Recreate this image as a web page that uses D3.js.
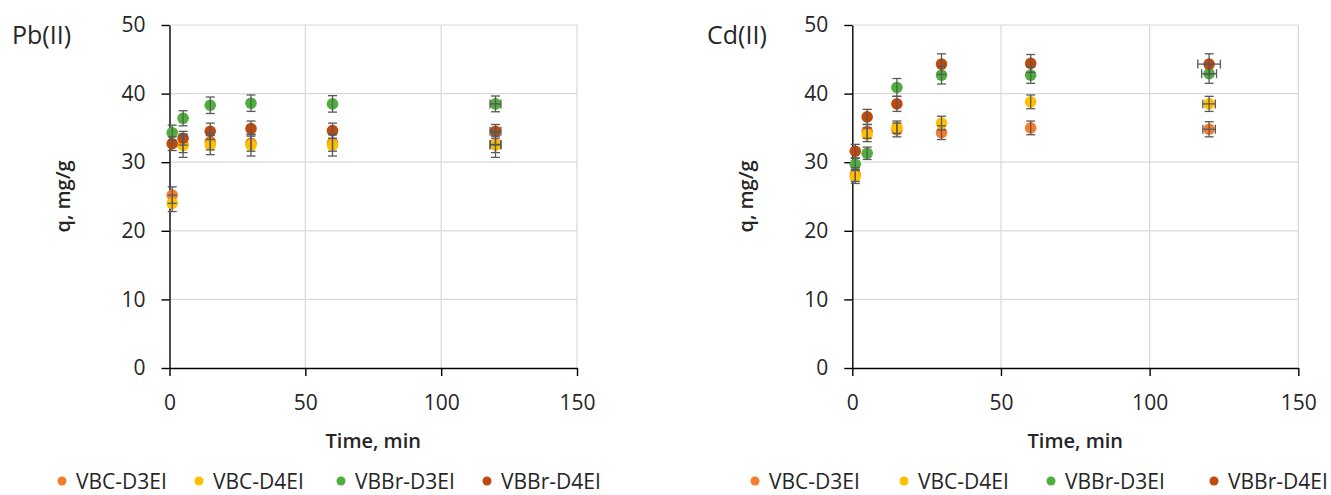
<!DOCTYPE html>
<html>
<head>
<meta charset="utf-8">
<script src="https://cdn.jsdelivr.net/npm/d3@7"></script>
<style>
  body { margin: 0; background: #fff; }
  svg text { font-family: "Open Sans", "Noto Sans", sans-serif; fill: #262626; }
</style>
</head>
<body>
<svg id="chart" width="1331" height="495"></svg>
<script>
// sampling times, min
var times = [1, 5, 15, 30, 60, 120];
var seriesNames = ["VBC-D3EI", "VBC-D4EI", "VBBr-D3EI", "VBBr-D4EI"];
var seriesColors = ["#F47C2C", "#FFC000", "#4EAE3E", "#BF4A0C"];
var xTicks = [0, 50, 100, 150];
var yTicks = [0, 10, 20, 30, 40, 50];

// Pb(II), q in mg/g
var pbVBC_D3EI = [25.2, 32.6, 33.0, 32.8, 32.8, 32.6];
var pbVBC_D4EI = [24.0, 32.4, 32.5, 32.5, 32.5, 32.5];
var pbVBBr_D3EI = [34.3, 36.4, 38.3, 38.6, 38.5, 38.5];
var pbVBBr_D4EI = [32.7, 33.5, 34.5, 34.9, 34.6, 34.5];
var pbErr_VBC_D3EI = [1.2, 1.2, 1.2, 1.2, 1.2, 1.2];
var pbErr_VBC_D4EI = [1.2, 1.7, 1.4, 1.6, 1.6, 1.8];
var pbErr_VBBr_D3EI = [1.1, 1.1, 1.2, 1.2, 1.2, 1.15];
var pbErr_VBBr_D4EI = [1.0, 1.0, 1.2, 1.1, 1.1, 1.0];
var pbTimeErr = [0, 0, 0, 0, 0, 2];

// Cd(II), q in mg/g
var cdVBC_D3EI = [28.2, 34.5, 34.7, 34.3, 35.0, 34.8];
var cdVBC_D4EI = [27.9, 34.0, 35.1, 35.7, 38.8, 38.5];
var cdVBBr_D3EI = [29.7, 31.3, 40.9, 42.7, 42.7, 42.9];
var cdVBBr_D4EI = [31.6, 36.6, 38.5, 44.3, 44.4, 44.3];
var cdErr_VBC_D3EI = [1.0, 1.0, 1.0, 1.0, 1.0, 1.1];
var cdErr_VBC_D4EI = [1.0, 1.0, 0.9, 1.0, 1.0, 1.1];
var cdErr_VBBr_D3EI = [0.9, 0.9, 1.3, 1.3, 1.2, 1.4];
var cdErr_VBBr_D4EI = [1.0, 1.1, 1.1, 1.5, 1.3, 1.5];
var cdTimeErr_VBC_D3EI = [0, 0, 0, 0, 0, 2.1];
var cdTimeErr_VBC_D4EI = [0, 0, 0, 0, 0, 2.1];
var cdTimeErr_VBBr_D3EI = [0, 0, 0, 0, 0, 2.5];
var cdTimeErr_VBBr_D4EI = [0, 0, 0, 0, 0, 3.8];

var svg = d3.select("#chart");

function buildSeries(values, errs, timeErrs) {
	return values.map(function(v, i) {
		return {
			name: seriesNames[i],
			color: seriesColors[i],
			points: times.map(function(t, j) {
				return { t: t, q: v[j], e: errs[i][j], te: timeErrs[i][j] };
			})
		};
	});
}

function drawPanel(opts) {
	var x = d3.scaleLinear().domain([0, 150]).range([opts.left, opts.right]);
	var y = d3.scaleLinear().domain([0, 50]).range([368, 25]);
	var g = svg.append("g");

	// grid
	g.selectAll("line.hgrid").data(yTicks.slice(1)).enter().append("line")
		.attr("x1", opts.left).attr("x2", opts.right)
		.attr("y1", function(d) { return y(d); }).attr("y2", function(d) { return y(d); })
		.attr("stroke", "#d9d9d9").attr("stroke-width", 1.2);
	g.selectAll("line.vgrid").data(xTicks.slice(1)).enter().append("line")
		.attr("y1", y(0)).attr("y2", y(50))
		.attr("x1", function(d) { return x(d); }).attr("x2", function(d) { return x(d); })
		.attr("stroke", "#d9d9d9").attr("stroke-width", 1.2);

	// axes
	var yAxis = g.append("g").attr("transform", "translate(" + opts.left + ",0)")
		.call(d3.axisLeft(y).tickValues(yTicks).tickSize(8).tickSizeOuter(0).tickPadding(16));
	var xAxis = g.append("g").attr("transform", "translate(0," + y(0) + ")")
		.call(d3.axisBottom(x).tickValues(xTicks).tickSize(8).tickSizeOuter(0).tickPadding(19));
	[yAxis, xAxis].forEach(function(a) {
		a.select(".domain").attr("stroke", "#000").attr("stroke-width", 1.4);
		a.selectAll(".tick line").attr("stroke", "#000").attr("stroke-width", 1.4);
		a.selectAll(".tick text").style("font-size", "21px").attr("fill", "#262626");
	});

	// titles
	g.append("text").attr("x", (opts.left + opts.right) / 2).attr("y", 448)
		.attr("text-anchor", "middle").style("font-size", "20px").style("font-weight", 600).text("Time, min");
	g.append("text").attr("transform", "translate(" + opts.yTitleX + "," + y(25) + ") rotate(-90)")
		.attr("text-anchor", "middle").style("font-size", "20px").style("font-weight", 600).text("q, mg/g");
	g.append("text").attr("x", opts.titleX).attr("y", 44)
		.style("font-size", "25px").text(opts.title);

	// markers then error bars
	opts.series.forEach(function(s) {
		g.selectAll(null).data(s.points).enter().append("circle")
			.attr("cx", function(d) { return x(d.t); })
			.attr("cy", function(d) { return y(d.q); })
			.attr("r", 5.8)
			.attr("fill", s.color);
	});
	opts.series.forEach(function(s) {
		var eb = g.selectAll(null).data(s.points).enter().append("g")
			.attr("stroke", "#595959").attr("stroke-width", 1.3);
		eb.append("line")
			.attr("x1", function(d) { return x(d.t); }).attr("x2", function(d) { return x(d.t); })
			.attr("y1", function(d) { return y(d.q - d.e); }).attr("y2", function(d) { return y(d.q + d.e); });
		[-1, 1].forEach(function(k) {
			eb.append("line")
				.attr("x1", function(d) { return x(d.t) - 4.5; }).attr("x2", function(d) { return x(d.t) + 4.5; })
				.attr("y1", function(d) { return y(d.q + k * d.e); }).attr("y2", function(d) { return y(d.q + k * d.e); });
		});
		var hb = eb.filter(function(d) { return d.te > 0; });
		hb.append("line")
			.attr("x1", function(d) { return x(d.t - d.te); }).attr("x2", function(d) { return x(d.t + d.te); })
			.attr("y1", function(d) { return y(d.q); }).attr("y2", function(d) { return y(d.q); });
		[-1, 1].forEach(function(k) {
			hb.append("line")
				.attr("x1", function(d) { return x(d.t + k * d.te); }).attr("x2", function(d) { return x(d.t + k * d.te); })
				.attr("y1", function(d) { return y(d.q) - 4.5; }).attr("y2", function(d) { return y(d.q) + 4.5; });
		});
	});

	// legend
	var lg = g.selectAll("g.legend").data(opts.series).enter().append("g")
		.attr("transform", function(d, i) { return "translate(" + opts.legendX[i] + ",481)"; });
	lg.append("circle").attr("r", 4.5).attr("fill", function(d) { return d.color; });
	lg.append("text").attr("x", 14).attr("dy", "0.36em").style("font-size", "21px")
		.text(function(d) { return d.name; });
}

drawPanel({
	title: "Pb(II)", titleX: 12, left: 169.5, right: 577, yTitleX: 70,
	legendX: [62, 199, 341, 487],
	series: buildSeries(
		[pbVBC_D3EI, pbVBC_D4EI, pbVBBr_D3EI, pbVBBr_D4EI],
		[pbErr_VBC_D3EI, pbErr_VBC_D4EI, pbErr_VBBr_D3EI, pbErr_VBBr_D4EI],
		[pbTimeErr, pbTimeErr, pbTimeErr, pbTimeErr])
});

drawPanel({
	title: "Cd(II)", titleX: 707, left: 852.3, right: 1298.3, yTitleX: 753,
	legendX: [755, 904, 1051, 1214],
	series: buildSeries(
		[cdVBC_D3EI, cdVBC_D4EI, cdVBBr_D3EI, cdVBBr_D4EI],
		[cdErr_VBC_D3EI, cdErr_VBC_D4EI, cdErr_VBBr_D3EI, cdErr_VBBr_D4EI],
		[cdTimeErr_VBC_D3EI, cdTimeErr_VBC_D4EI, cdTimeErr_VBBr_D3EI, cdTimeErr_VBBr_D4EI])
});
</script>
</body>
</html>
